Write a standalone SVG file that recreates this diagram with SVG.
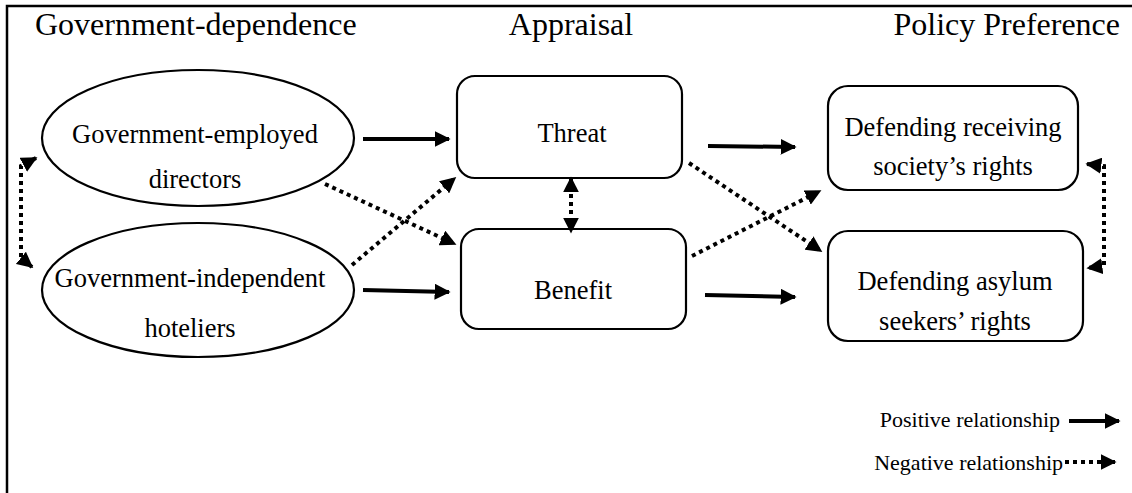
<svg xmlns="http://www.w3.org/2000/svg" width="1132" height="493" viewBox="0 0 1132 493">
<style>
text{font-family:"Liberation Serif","Times New Roman",serif;fill:#000}
.h{font-size:32px}
.n{font-size:26.5px;text-anchor:middle}
.l{font-size:22px;text-anchor:end}
.shape{fill:#fff;stroke:#000;stroke-width:2.2}
.pos{fill:none;stroke:#000;stroke-width:4}
.neg{fill:none;stroke:#000;stroke-width:4;stroke-dasharray:4 4}
</style>
<defs>
<marker id="ah" viewBox="0 0 10 10" refX="9" refY="5" markerWidth="4" markerHeight="4" orient="auto-start-reverse" markerUnits="strokeWidth">
<path d="M0,0 L10,5 L0,10 z" fill="#000"/>
</marker>
</defs>
<rect x="7" y="6" width="1140" height="500" fill="#fff" stroke="#000" stroke-width="2.5"/>
<g id="headers">
<text class="h" x="35" y="35">Government-dependence</text>
<text class="h" x="571" y="35" text-anchor="middle">Appraisal</text>
<text class="h" x="1120" y="35" text-anchor="end">Policy Preference</text>
</g>
<g id="gov-employed">
<ellipse class="shape" cx="198" cy="138" rx="156" ry="68"/>
<text class="n" x="195" y="143">Government-employed</text>
<text class="n" x="195" y="188">directors</text>
</g>
<g id="gov-independent">
<ellipse class="shape" cx="198" cy="290" rx="156" ry="67"/>
<text class="n" x="190" y="287">Government-independent</text>
<text class="n" x="190" y="337">hoteliers</text>
</g>
<g id="threat">
<rect class="shape" x="457" y="76" width="225" height="102" rx="18"/>
<text class="n" x="572" y="142">Threat</text>
</g>
<g id="benefit">
<rect class="shape" x="461" y="229" width="225" height="100" rx="18"/>
<text class="n" x="573" y="299">Benefit</text>
</g>
<g id="receiving">
<rect class="shape" x="828" y="86" width="250" height="104" rx="20"/>
<text class="n" x="953" y="136">Defending receiving</text>
<text class="n" x="953" y="175">society’s rights</text>
</g>
<g id="asylum">
<rect class="shape" x="828" y="231" width="255" height="110" rx="20"/>
<text class="n" x="955" y="290">Defending asylum</text>
<text class="n" x="955" y="330">seekers’ rights</text>
</g>
<g id="connectors">
<path class="pos" d="M363,139 L449,139" marker-end="url(#ah)"/>
<path class="pos" d="M363,290 L449,292" marker-end="url(#ah)"/>
<path class="pos" d="M708,146 L795,147" marker-end="url(#ah)"/>
<path class="pos" d="M705,295 L795,297" marker-end="url(#ah)"/>
<path class="neg" d="M325,184 L455,244" marker-end="url(#ah)"/>
<path class="neg" d="M352,265 L455,178" marker-end="url(#ah)"/>
<path class="neg" d="M689,163 L821,251" marker-end="url(#ah)"/>
<path class="neg" d="M692,256 L820,191" marker-end="url(#ah)"/>
<path class="neg" d="M571,178 L571,232" marker-start="url(#ah)" marker-end="url(#ah)"/>
<path class="neg" d="M36,158 L21,166 L21,258 L32,267" marker-start="url(#ah)" marker-end="url(#ah)"/>
<path class="neg" d="M1087,164 L1104,166 L1104,266 L1088,268" marker-start="url(#ah)" marker-end="url(#ah)"/>
</g>
<g id="legend">
<text class="l" x="1060" y="427">Positive relationship</text>
<path class="pos" d="M1069,421 L1119,421" marker-end="url(#ah)"/>
<text class="l" x="1063" y="470">Negative relationship</text>
<path class="neg" d="M1065,462 L1115,462" marker-end="url(#ah)"/>
</g>
</svg>
